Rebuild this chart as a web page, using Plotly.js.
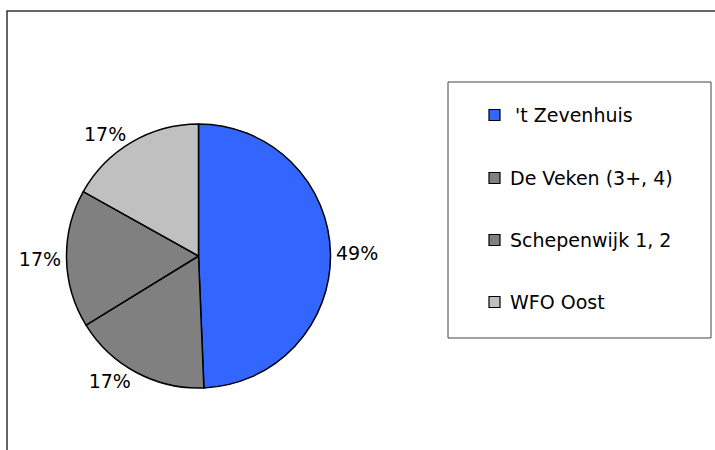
<!DOCTYPE html>
<html>
<head>
<meta charset="utf-8">
<script src="https://cdn.plot.ly/plotly-3.0.1.min.js"></script>
<style>html,body{margin:0;padding:0;background:#fff;}#chart{width:715px;height:450px;}</style>
</head>
<body>
<div id="chart"></div>
<script>
// Data
var labels = ["'t Zevenhuis", "De Veken (3+, 4)", "Schepenwijk 1, 2", "WFO Oost"];
var values = [49.4, 16.9, 16.9, 16.9];
var colors = ["#3366FF", "#808080", "#808080", "#C0C0C0"];

var W = 715, H = 450;
function px(x){ return x / W; }
function py(y){ return 1 - y / H; }

var FONT = "DejaVu Sans";

var trace = {
  type: 'pie',
  labels: labels,
  values: values,
  sort: false,
  direction: 'clockwise',
  rotation: 0,
  marker: { colors: colors, line: { color: '#000000', width: 1.5 } },
  textposition: 'outside',
  texttemplate: '%{percent:.0%}',
  textfont: { family: FONT, size: 19, color: '#000000' },
  hoverinfo: 'label+percent',
  showlegend: false,
  domain: { x: [px(66), px(331)], y: [py(388), py(124)] }
};

var shapes = [
  // outer chart frame (extends past right/bottom edges)
  { type: 'rect', xref: 'paper', yref: 'paper', x0: px(7), y0: py(11), x1: px(W + 20), y1: py(H + 20),
    line: { color: '#333333', width: 1.5 }, fillcolor: 'rgba(0,0,0,0)', layer: 'below' },
  // legend box
  { type: 'rect', xref: 'paper', yref: 'paper', x0: px(448), y0: py(82), x1: px(711), y1: py(338),
    line: { color: '#444444', width: 1 }, fillcolor: 'rgba(0,0,0,0)' }
];
var annotations = [];
var rowY = [115, 178, 240, 302];
for (var i = 0; i < labels.length; i++) {
  shapes.push({ type: 'rect', xref: 'paper', yref: 'paper',
    x0: px(489), x1: px(500), y0: py(rowY[i] - 5.5), y1: py(rowY[i] + 5.5),
    fillcolor: colors[i], line: { color: '#000000', width: 1.2 } });
  annotations.push({ xref: 'paper', yref: 'paper', x: px(i === 0 ? 513 : 508), y: py(rowY[i]),
    xanchor: 'left', yanchor: 'middle', showarrow: false, text: labels[i],
    font: { family: FONT, size: 19, color: '#000000' } });
}

var layout = {
  width: W, height: H,
  margin: { l: 0, r: 0, t: 0, b: 0 },
  paper_bgcolor: '#ffffff',
  showlegend: false,
  shapes: shapes,
  annotations: annotations
};

Plotly.newPlot('chart', [trace], layout, { displayModeBar: false, staticPlot: true });
</script>
</body>
</html>
